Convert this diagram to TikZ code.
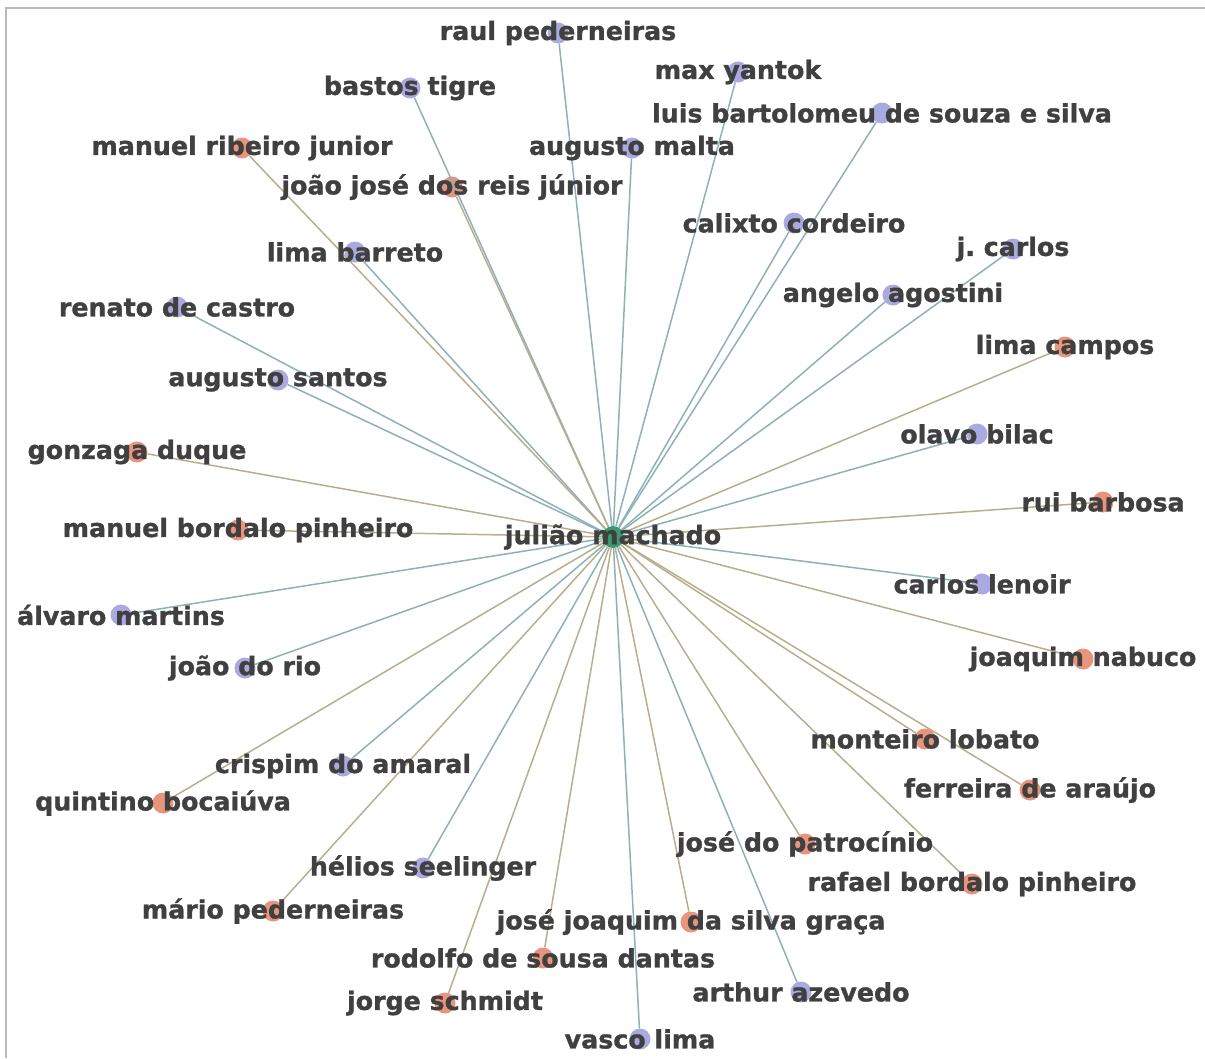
\documentclass[tikz,border=0pt]{standalone}
\usepackage{fontspec}
\setmainfont{DejaVu Sans}
\newfontfamily\lblfont[FakeBold=1.2]{DejaVu Sans Bold}
\definecolor{lavfill}{HTML}{AAAAE0}
\definecolor{salfill}{HTML}{E9957E}
\definecolor{ctrfill}{HTML}{3C9A72}
\definecolor{edgeL}{HTML}{8CB2B8}
\definecolor{edgeS}{HTML}{B8AE8C}
\definecolor{txt}{HTML}{404040}
\definecolor{frame}{HTML}{BBBBBB}
\tikzset{
  lav/.style={circle,fill=lavfill,minimum size=21pt,inner sep=0pt},
  sal/.style={circle,fill=salfill,minimum size=21pt,inner sep=0pt},
  ctr/.style={circle,fill=ctrfill,minimum size=22pt,inner sep=0pt},
  lbl/.style={text=txt,inner sep=0pt,font=\lblfont\fontsize{25.3}{28}\selectfont\frenchspacing},
  eL/.style={draw=edgeL,line width=1.5pt},
  eS/.style={draw=edgeS,line width=1.5pt},
}
\begin{document}
\begin{tikzpicture}[x=1pt,y=-1pt]
\useasboundingbox (0,0) rectangle (1205,1058);
\draw[frame,line width=1.5pt] (6,1058) coordinate (fa) -- (6,8) coordinate (fb) -- (1205,8) coordinate (fc);
% nodes
\node[ctr] (c) at (613,537) {};
\node[lav] (n1) at (558,33) {};
\node[lav] (n2) at (738,72) {};
\node[lav] (n3) at (410,88) {};
\node[lav] (n4) at (882,113) {};
\node[lav] (n5) at (632,148) {};
\node[sal] (n6) at (242,148) {};
\node[sal] (n7) at (452,187) {};
\node[lav] (n8) at (794,223) {};
\node[lav] (n9) at (1013,249) {};
\node[lav] (n10) at (355,252) {};
\node[lav] (n11) at (893,295) {};
\node[lav] (n12) at (177,307) {};
\node[sal] (n13) at (1065,347) {};
\node[lav] (n14) at (278,380) {};
\node[lav] (n15) at (977,434) {};
\node[sal] (n16) at (137,452) {};
\node[sal] (n17) at (1103,502) {};
\node[sal] (n18) at (238,530) {};
\node[lav] (n20) at (982,584) {};
\node[lav] (n21) at (121,615) {};
\node[sal] (n22) at (1083,659) {};
\node[lav] (n23) at (245,668) {};
\node[sal] (n24) at (925,739) {};
\node[lav] (n25) at (343,766) {};
\node[sal] (n26) at (1030,790) {};
\node[sal] (n27) at (163,803) {};
\node[sal] (n28) at (805,844) {};
\node[lav] (n29) at (423,868) {};
\node[sal] (n30) at (972,884) {};
\node[sal] (n31) at (273,911) {};
\node[sal] (n32) at (691,922) {};
\node[sal] (n33) at (543,958) {};
\node[sal] (n34) at (445,1003) {};
\node[lav] (n35) at (801,992) {};
\node[lav] (n36) at (640,1039) {};
% edges
\foreach \n in {n1,n2,n3,n4,n5,n8,n9,n10,n11,n12,n14,n15,n20,n21,n23,n25,n29,n35,n36}
  \draw[eL] (c) -- (\n);
\foreach \n in {n6,n7,n13,n16,n17,n18,n22,n24,n26,n27,n28,n30,n31,n32,n33,n34}
  \draw[eS] (c) -- (\n);
% labels
\node[lbl] (t0) at (c) {julião machado};
\node[lbl] (t1) at (n1) {raul pederneiras};
\node[lbl] (t2) at (n2) {max yantok};
\node[lbl] (t3) at (n3) {bastos tigre};
\node[lbl] (t4) at (n4) {luis bartolomeu de souza e silva};
\node[lbl] (t5) at (n5) {augusto malta};
\node[lbl] (t6) at (n6) {manuel ribeiro junior};
\node[lbl] (t7) at (n7) {joão josé dos reis júnior};
\node[lbl] (t8) at (n8) {calixto cordeiro};
\node[lbl] (t9) at (n9) {j. carlos};
\node[lbl] (t10) at (n10) {lima barreto};
\node[lbl] (t11) at (n11) {angelo agostini};
\node[lbl] (t12) at (n12) {renato de castro};
\node[lbl] (t13) at (n13) {lima campos};
\node[lbl] (t14) at (n14) {augusto santos};
\node[lbl] (t15) at (n15) {olavo bilac};
\node[lbl] (t16) at (n16) {gonzaga duque};
\node[lbl] (t17) at (n17) {rui barbosa};
\node[lbl] (t18) at (n18) {manuel bordalo pinheiro};
\node[lbl] (t20) at (n20) {carlos lenoir};
\node[lbl] (t21) at (n21) {álvaro martins};
\node[lbl] (t22) at (n22) {joaquim nabuco};
\node[lbl] (t23) at (n23) {joão do rio};
\node[lbl] (t24) at (n24) {monteiro lobato};
\node[lbl] (t25) at (n25) {crispim do amaral};
\node[lbl] (t26) at (n26) {ferreira de araújo};
\node[lbl] (t27) at (n27) {quintino bocaiúva};
\node[lbl] (t28) at (n28) {josé do patrocínio};
\node[lbl] (t29) at (n29) {hélios seelinger};
\node[lbl] (t30) at (n30) {rafael bordalo pinheiro};
\node[lbl] (t31) at (n31) {mário pederneiras};
\node[lbl] (t32) at (n32) {josé joaquim da silva graça};
\node[lbl] (t33) at (n33) {rodolfo de sousa dantas};
\node[lbl] (t34) at (n34) {jorge schmidt};
\node[lbl] (t35) at (n35) {arthur azevedo};
\node[lbl] (t36) at (n36) {vasco lima};
\end{tikzpicture}
\end{document}
